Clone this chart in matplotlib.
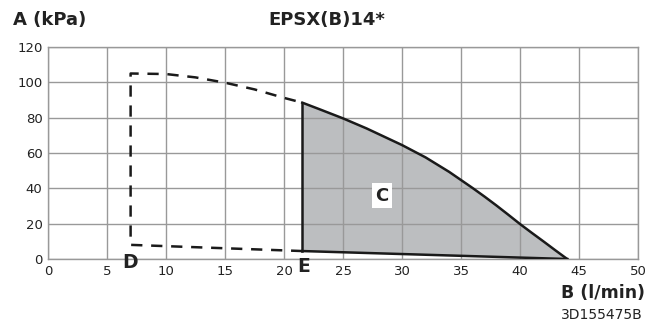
import matplotlib
matplotlib.use('Agg')
import matplotlib.pyplot as plt

plt.rcParams['font.family'] = ['DejaVu Sans']

# operating curve (solid part, area C)
curve_x = [21.55, 23, 25, 27, 30, 32, 34, 35, 36, 37, 38, 39, 40, 41, 42, 43, 44]
curve_y = [88.5, 84.8, 79.6, 73.9, 64.5, 57.5, 49.3, 44.7, 40.1, 35.3, 30.3, 25.1, 19.8, 14.8, 9.9, 4.9, 0]
# lower limit E -> end
bottom_x = [21.55, 44]
bottom_y = [4.5, 0]
# dashed part: E -> D corner -> up -> curve -> top of E
dash_x = [21.55, 7, 7, 10, 12.5, 15, 17.5, 20, 21.55]
dash_y = [4.5, 8, 105, 104.7, 102.8, 99.8, 96, 91.2, 88.5]

x_ticks = [0, 5, 10, 15, 20, 25, 30, 35, 40, 45, 50]
y_ticks = [0, 20, 40, 60, 80, 100, 120]

fig = plt.figure(figsize=(6.47, 3.26), dpi=100)
ax = fig.add_axes([48 / 647, 67 / 326, 590 / 647, 212 / 326])

poly_x = curve_x + bottom_x[::-1]
poly_y = curve_y + bottom_y[::-1]
ax.fill(poly_x, poly_y, color='#bcbec0', zorder=1, lw=0)

ax.set_xlim(0, 50)
ax.set_ylim(0, 120)
ax.set_xticks(x_ticks)
ax.set_yticks(y_ticks)
ax.grid(True, color='#999999', lw=1.0, zorder=2)
ax.set_axisbelow(False)
for s in ax.spines.values():
    s.set_color('#999999')
    s.set_linewidth(1.0)
ax.tick_params(length=0, labelsize=9.5, colors='#222222', pad=4)

ax.plot(curve_x, curve_y, color='#1a1a1a', lw=1.8, zorder=4)
ax.plot(bottom_x, bottom_y, color='#1a1a1a', lw=1.8, zorder=4)
ax.plot([curve_x[0], bottom_x[0]], [curve_y[0], bottom_y[0]], color='#1a1a1a', lw=1.8, zorder=4)
ax.plot(dash_x, dash_y, color='#1a1a1a', lw=1.8, dashes=(4.5, 3.5), zorder=4)

ax.text(28.3, 35.7, 'C', fontsize=13, fontweight='bold', ha='center', va='center', zorder=5,
        color='#222222', bbox=dict(facecolor='white', edgecolor='none', pad=2.5))
ax.text(6.95, -2, 'D', fontsize=13.5, fontweight='bold', ha='center', va='center',
        color='#222222', clip_on=False, zorder=5)
ax.text(21.65, -4.5, 'E', fontsize=13.5, fontweight='bold', ha='center', va='center',
        color='#222222', clip_on=False, zorder=5)

fig.text(13 / 647, 1 - 20 / 326, 'A (kPa)', fontsize=13, fontweight='bold', ha='left', va='center', color='#222222')
fig.text(327 / 647, 1 - 20 / 326, 'EPSX(B)14*', fontsize=13, fontweight='bold', ha='center', va='center', color='#222222')
fig.text(645 / 647, 1 - 293 / 326, 'B (l/min)', fontsize=12.5, fontweight='bold', ha='right', va='center', color='#222222')
fig.text(643 / 647, 1 - 315 / 326, '3D155475B', fontsize=10, ha='right', va='center', color='#222222')

fig.savefig('out.png', dpi=100)
